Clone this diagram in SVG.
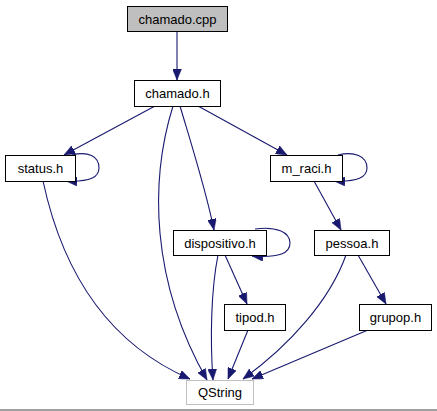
<svg xmlns="http://www.w3.org/2000/svg" width="437" height="411" viewBox="0 0 437 411">
<style>
.n rect{fill:#ffffff;stroke:#000000;stroke-width:1}
.n text{font-family:"Liberation Sans",Arial,sans-serif;font-size:13px;text-anchor:middle;fill:#000000}
.e path{fill:none;stroke:#191970;stroke-width:1.1}
</style>
<defs>
<marker id="a" viewBox="0 0 11 9" refX="11" refY="4.5" markerWidth="11" markerHeight="9" orient="auto" markerUnits="userSpaceOnUse">
<path d="M0,0 L11,4.5 L0,9 z" fill="#191970" stroke="#191970" stroke-width="0.5"/>
</marker>
</defs>
<rect x="0" y="0" width="437" height="411" fill="#ffffff"/>
<g class="e" id="edges">
<path marker-end="url(#a)" d="M177,31 L177,80"/>
<path marker-end="url(#a)" d="M155,106 L64,155"/>
<path marker-end="url(#a)" d="M198,106 L287,155"/>
<path marker-end="url(#a)" d="M180,106 C190,140 206,190 214,230"/>
<path marker-end="url(#a)" d="M173,106 C150,180 150,280 207,380"/>
<path marker-end="url(#a)" d="M72,155 C88,151 99,156 99,168 C99,177 91,182 66,181"/>
<path marker-end="url(#a)" d="M43,181 C60,260 100,340 190,379"/>
<path marker-end="url(#a)" d="M338,155 C354,151 367,156 367,168 C367,177 358,182 334,181"/>
<path marker-end="url(#a)" d="M314,181 L341,230"/>
<path marker-end="url(#a)" d="M255,229 C276,226 290,232 290,243 C290,253 280,258 252,256"/>
<path marker-end="url(#a)" d="M225,255 L247,304"/>
<path marker-end="url(#a)" d="M218,255 C211,290 210,340 213,380"/>
<path marker-end="url(#a)" d="M248,330 L228,379"/>
<path marker-end="url(#a)" d="M346,255 C330,300 290,345 243,379"/>
<path marker-end="url(#a)" d="M358,255 L386,304"/>
<path marker-end="url(#a)" d="M368,330 L252,379"/>
</g>
<g class="n" id="n_chamado_cpp"><rect x="127.5" y="6.5" width="100" height="25" style="fill:#bfbfbf"/><text x="177.5" y="23.5">chamado.cpp</text></g>
<g class="n" id="n_chamado_h"><rect x="134.5" y="80.5" width="86" height="26"/><text x="177.5" y="98">chamado.h</text></g>
<g class="n" id="n_status_h"><rect x="5.5" y="155.5" width="70" height="26"/><text x="40.5" y="173">status.h</text></g>
<g class="n" id="n_m_raci_h"><rect x="270.5" y="155.5" width="72" height="26"/><text x="306.5" y="173">m_raci.h</text></g>
<g class="n" id="n_dispositivo_h"><rect x="173.5" y="230.5" width="93" height="25"/><text x="220" y="247.5">dispositivo.h</text></g>
<g class="n" id="n_pessoa_h"><rect x="314.5" y="230.5" width="75" height="25"/><text x="352" y="247.5">pessoa.h</text></g>
<g class="n" id="n_tipod_h"><rect x="224.5" y="304.5" width="61" height="26"/><text x="255" y="322">tipod.h</text></g>
<g class="n" id="n_grupop_h"><rect x="359.5" y="304.5" width="72" height="26"/><text x="395.5" y="322">grupop.h</text></g>
<g class="n" id="n_qstring"><rect x="186.5" y="380.5" width="67" height="24" style="stroke:#bfbfbf"/><text x="220" y="397">QString</text></g>
<line x1="0" y1="410" x2="437" y2="410" stroke="#808080" stroke-width="1.5"/>
</svg>
